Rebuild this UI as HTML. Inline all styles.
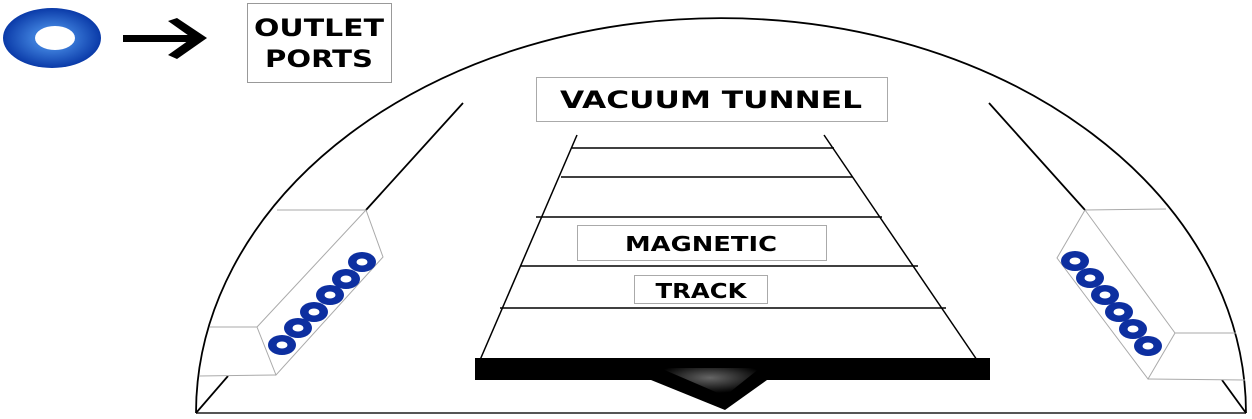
<!DOCTYPE html>
<html><head><meta charset="utf-8"><style>html,body{margin:0;padding:0;background:#fff}svg{display:block}</style></head>
<body>
<svg width="1252" height="419" viewBox="0 0 1252 419" xmlns="http://www.w3.org/2000/svg" font-family="'DejaVu Sans','Liberation Sans',sans-serif">
<defs>
<radialGradient id="rg" cx="0.5" cy="0.5" r="0.5">
<stop offset="0.4" stop-color="#3a7ad8"/><stop offset="1" stop-color="#0a3aa8"/></radialGradient>
<radialGradient id="tg" cx="0.5" cy="0.35" r="0.55">
<stop offset="0" stop-color="#666"/><stop offset="1" stop-color="#000"/></radialGradient>
<g id="r"><ellipse cx="0" cy="0" rx="14" ry="10" fill="#0d2fa0"/><ellipse cx="0" cy="0" rx="5.5" ry="3.5" fill="#fff"/></g>
</defs>
<ellipse cx="52" cy="38" rx="49" ry="30" fill="url(#rg)"/>
<ellipse cx="55" cy="38" rx="20" ry="12" fill="#fff"/>
<rect x="123" y="35" width="70" height="7" fill="#000"/>
<polygon points="168,21 177,18 207,38 177,59 168,55 192,38" fill="#000"/>
<rect x="247.5" y="3.5" width="144" height="79" fill="#fff" stroke="#999"/>
<text x="319" y="36" font-size="24" font-weight="bold" text-anchor="middle" textLength="130" lengthAdjust="spacingAndGlyphs">OUTLET</text>
<text x="319" y="67" font-size="24" font-weight="bold" text-anchor="middle" textLength="108" lengthAdjust="spacingAndGlyphs">PORTS</text>
<path d="M196,413 A525,395 0 0 1 1246,413" fill="none" stroke="#000" stroke-width="1.8"/>
<line x1="196" y1="413" x2="1246" y2="413" stroke="#555" stroke-width="2"/>
<line x1="463" y1="103" x2="366" y2="210" stroke="#000" stroke-width="1.8"/>
<line x1="228" y1="376" x2="196" y2="413" stroke="#000" stroke-width="1.8"/>
<line x1="989" y1="103" x2="1085" y2="210" stroke="#000" stroke-width="1.8"/>
<line x1="1222" y1="380" x2="1246" y2="413" stroke="#000" stroke-width="1.8"/>
<g fill="none" stroke="#aaa" stroke-width="1">
<polyline points="277,210 366,210 383,257 276,375 257,327 366,210"/>
<line x1="210" y1="327" x2="257" y2="327"/>
<line x1="199" y1="376" x2="276" y2="375"/>
<polyline points="1085,210 1166,209"/>
<polyline points="1085,210 1175,333 1148,379 1057,258 1085,210"/>
<line x1="1175" y1="333" x2="1236" y2="333"/>
<line x1="1148" y1="379" x2="1245" y2="380"/>
</g>
<use href="#r" x="282" y="345"/><use href="#r" x="298" y="328"/><use href="#r" x="314" y="312"/><use href="#r" x="330" y="295"/><use href="#r" x="346" y="279"/><use href="#r" x="362" y="262"/>
<use href="#r" x="1075" y="261"/><use href="#r" x="1090" y="278"/><use href="#r" x="1105" y="295"/><use href="#r" x="1119" y="312"/><use href="#r" x="1133" y="329"/><use href="#r" x="1148" y="346"/>
<rect x="536.5" y="77.5" width="351" height="44" fill="#fff" stroke="#aaa"/>
<text x="711" y="108" font-size="24" font-weight="bold" text-anchor="middle" textLength="302" lengthAdjust="spacingAndGlyphs">VACUUM TUNNEL</text>
<g stroke="#000" stroke-width="1.5">
<line x1="577" y1="135" x2="480" y2="360"/>
<line x1="824" y1="135" x2="977" y2="360"/>
<line x1="572" y1="148" x2="834" y2="148"/>
<line x1="561" y1="177" x2="853" y2="177"/>
<line x1="536" y1="217" x2="882" y2="217"/>
<line x1="520" y1="266" x2="918" y2="266"/>
<line x1="500" y1="308" x2="946" y2="308"/>
</g>
<rect x="577.5" y="225.5" width="249" height="35" fill="#fff" stroke="#aaa"/>
<text x="701" y="251" font-size="20" font-weight="bold" text-anchor="middle" textLength="152" lengthAdjust="spacingAndGlyphs">MAGNETIC</text>
<rect x="634.5" y="275.5" width="133" height="28" fill="#fff" stroke="#aaa"/>
<text x="701" y="298" font-size="20" font-weight="bold" text-anchor="middle" textLength="91" lengthAdjust="spacingAndGlyphs">TRACK</text>
<rect x="475" y="358" width="515" height="22" fill="#000"/>
<polygon points="651,380 767,380 725,410" fill="#000"/>
<polygon points="660,368 760,368 725,396" fill="url(#tg)"/>
</svg>
</body></html>
